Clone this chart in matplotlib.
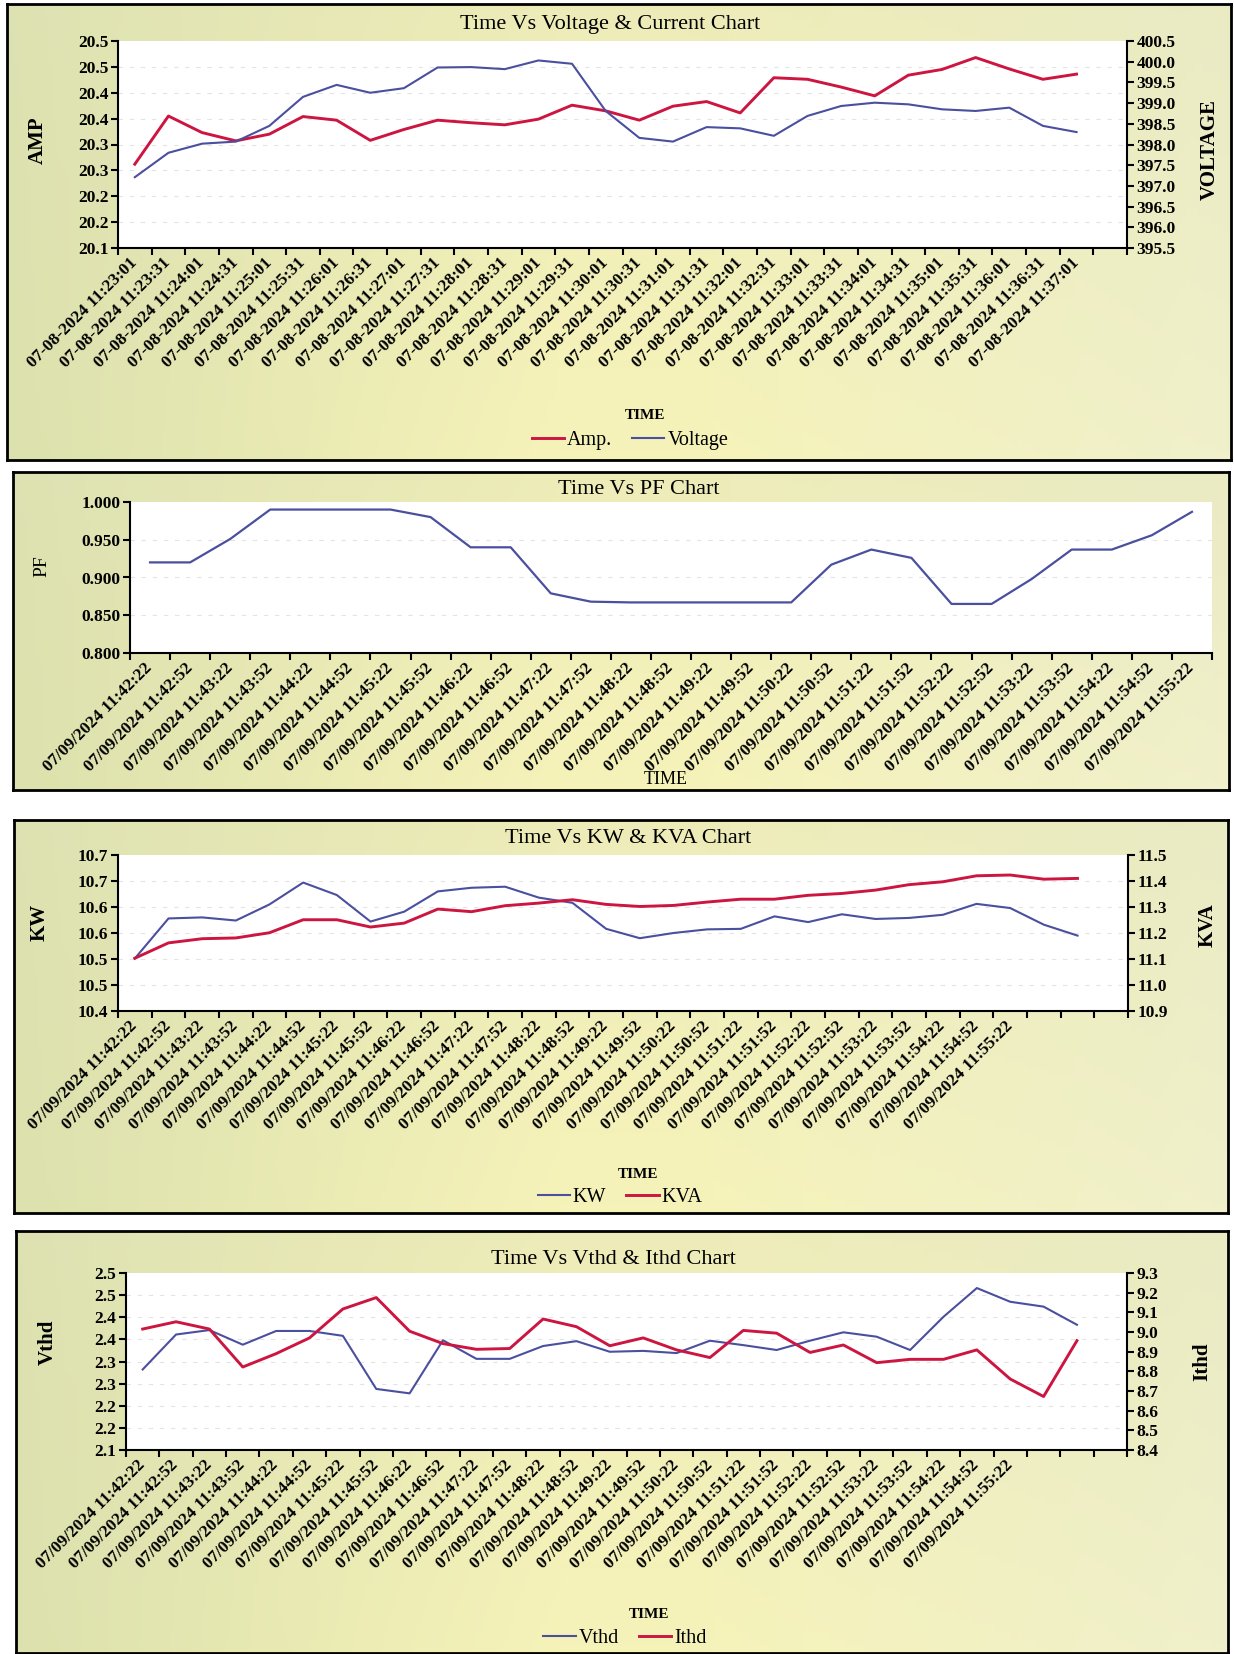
import numpy as np
import matplotlib
matplotlib.use('Agg')
import matplotlib.pyplot as plt
from matplotlib.colors import to_rgb

plt.rcParams['font.family'] = ['Liberation Serif', 'DejaVu Serif']

# ---------------- data ----------------
va_times = ['07-08-2024 11:23:01', '07-08-2024 11:23:31', '07-08-2024 11:24:01', '07-08-2024 11:24:31',
            '07-08-2024 11:25:01', '07-08-2024 11:25:31', '07-08-2024 11:26:01', '07-08-2024 11:26:31',
            '07-08-2024 11:27:01', '07-08-2024 11:27:31', '07-08-2024 11:28:01', '07-08-2024 11:28:31',
            '07-08-2024 11:29:01', '07-08-2024 11:29:31', '07-08-2024 11:30:01', '07-08-2024 11:30:31',
            '07-08-2024 11:31:01', '07-08-2024 11:31:31', '07-08-2024 11:32:01', '07-08-2024 11:32:31',
            '07-08-2024 11:33:01', '07-08-2024 11:33:31', '07-08-2024 11:34:01', '07-08-2024 11:34:31',
            '07-08-2024 11:35:01', '07-08-2024 11:35:31', '07-08-2024 11:36:01', '07-08-2024 11:36:31',
            '07-08-2024 11:37:01']
amp = [20.262, 20.355, 20.323, 20.307, 20.320, 20.354, 20.347, 20.308, 20.329, 20.347,
       20.342, 20.338, 20.349, 20.376, 20.365, 20.347, 20.374, 20.383, 20.361, 20.429,
       20.426, 20.411, 20.394, 20.434, 20.445, 20.468, 20.446, 20.426, 20.436]
voltage = [397.21, 397.80, 398.02, 398.07, 398.45, 399.15, 399.44, 399.25, 399.36, 399.86,
           399.87, 399.82, 400.03, 399.95, 398.81, 398.16, 398.07, 398.42, 398.39, 398.21,
           398.69, 398.93, 399.01, 398.97, 398.85, 398.81, 398.89, 398.45, 398.30]

pq_times = ['07/09/2024 11:42:22', '07/09/2024 11:42:52', '07/09/2024 11:43:22', '07/09/2024 11:43:52',
            '07/09/2024 11:44:22', '07/09/2024 11:44:52', '07/09/2024 11:45:22', '07/09/2024 11:45:52',
            '07/09/2024 11:46:22', '07/09/2024 11:46:52', '07/09/2024 11:47:22', '07/09/2024 11:47:52',
            '07/09/2024 11:48:22', '07/09/2024 11:48:52', '07/09/2024 11:49:22', '07/09/2024 11:49:52',
            '07/09/2024 11:50:22', '07/09/2024 11:50:52', '07/09/2024 11:51:22', '07/09/2024 11:51:52',
            '07/09/2024 11:52:22', '07/09/2024 11:52:52', '07/09/2024 11:53:22', '07/09/2024 11:53:52',
            '07/09/2024 11:54:22', '07/09/2024 11:54:52', '07/09/2024 11:55:22']
pf = [0.920, 0.920, 0.951, 0.990, 0.990, 0.990, 0.990, 0.980, 0.940, 0.940,
      0.879, 0.868, 0.867, 0.867, 0.867, 0.867, 0.867, 0.917, 0.937, 0.926,
      0.865, 0.865, 0.898, 0.937, 0.937, 0.956, 0.987]

kw = [10.501, 10.578, 10.580, 10.574, 10.605, 10.647, 10.623, 10.572, 10.591, 10.630,
      10.637, 10.639, 10.618, 10.608, 10.558, 10.540, 10.550, 10.557, 10.558, 10.582,
      10.571, 10.586, 10.577, 10.579, 10.585, 10.606, 10.598, 10.566, 10.545]
kva = [11.103, 11.162, 11.178, 11.181, 11.201, 11.251, 11.251, 11.223, 11.238, 11.292,
       11.282, 11.305, 11.315, 11.328, 11.310, 11.302, 11.306, 11.319, 11.330, 11.330,
       11.345, 11.352, 11.365, 11.386, 11.397, 11.420, 11.423, 11.407, 11.410]

vthd = [2.282, 2.361, 2.371, 2.338, 2.369, 2.369, 2.358, 2.238, 2.228, 2.348,
        2.306, 2.306, 2.335, 2.346, 2.322, 2.324, 2.319, 2.347, 2.337, 2.326,
        2.347, 2.366, 2.356, 2.326, 2.401, 2.466, 2.435, 2.424, 2.383]
ithd = [9.015, 9.052, 9.015, 8.822, 8.890, 8.970, 9.117, 9.175, 9.004, 8.941,
        8.912, 8.916, 9.066, 9.027, 8.930, 8.970, 8.909, 8.870, 9.008, 8.994,
        8.896, 8.934, 8.844, 8.861, 8.861, 8.909, 8.761, 8.672, 8.956]

amp_ticks = [20.10, 20.15, 20.20, 20.25, 20.30, 20.35, 20.40, 20.45, 20.50]
amp_labels = ['20.1', '20.2', '20.2', '20.3', '20.3', '20.4', '20.4', '20.5', '20.5']
volt_ticks = [395.5, 396.0, 396.5, 397.0, 397.5, 398.0, 398.5, 399.0, 399.5, 400.0, 400.5]
pf_ticks = [0.800, 0.850, 0.900, 0.950, 1.000]
kw_ticks = [10.40, 10.45, 10.50, 10.55, 10.60, 10.65, 10.70]
kw_labels = ['10.4', '10.5', '10.5', '10.6', '10.6', '10.7', '10.7']
kva_ticks = [10.9, 11.0, 11.1, 11.2, 11.3, 11.4, 11.5]
vthd_ticks = [2.10, 2.15, 2.20, 2.25, 2.30, 2.35, 2.40, 2.45, 2.50]
vthd_labels = ['2.1', '2.2', '2.2', '2.3', '2.3', '2.4', '2.4', '2.5', '2.5']
ithd_ticks = [8.4, 8.5, 8.6, 8.7, 8.8, 8.9, 9.0, 9.1, 9.2, 9.3]

RED = '#cc1540'
BLUE = '#4a4f9e'

# ---------------- layout helpers (pixel coordinates) ----------------
W, H = 1234, 1654
fig = plt.figure(figsize=(W / 100, H / 100), dpi=100)
fig.patch.set_facecolor('white')


def rect(x0, y0, x1, y1):
    return [x0 / W, 1 - y1 / H, (x1 - x0) / W, (y1 - y0) / H]


def ftext(x, y, s, **kw):
    fig.text(x / W, 1 - y / H, s, ha='center', va='center', **kw)


def panel_bg(box):
    bg = fig.add_axes(rect(*box), zorder=0)
    nx, ny = 300, 60
    t = np.linspace(0, 1, nx)
    c_left = np.array(to_rgb('#dce1ad'))
    c_mid = np.array(to_rgb('#f6f3b9'))
    c_right = np.array(to_rgb('#f0f0cb'))
    w1 = np.clip(1 - t / 0.45, 0, 1)[:, None]
    w3 = np.clip((t - 0.55) / 0.45, 0, 1)[:, None]
    w2 = 1 - w1 - w3
    row = w1 * c_left + w2 * c_mid + w3 * c_right
    v = np.linspace(0, 1, ny)[:, None, None]
    top_tint = np.array(to_rgb('#e1e3b9'))
    img = row[None, :, :] * (0.6 + 0.4 * v) + top_tint * (0.4 - 0.4 * v)
    bg.imshow(np.clip(img, 0, 1), aspect='auto', extent=[0, 1, 0, 1], origin='upper')
    bg.set_xticks([])
    bg.set_yticks([])
    for s in bg.spines.values():
        s.set_linewidth(2)
        s.set_color('black')


TICKFONT = dict(fontsize=12.5, fontweight='bold')


def setup_axes(plot_box, ncat, xlabels, ylim, yticks, ylabels):
    ax = fig.add_axes(rect(*plot_box), zorder=2)
    ax.set_facecolor('white')
    ax.set_xlim(-0.5, ncat - 0.5)
    ax.set_ylim(*ylim)
    # tick marks sit between categories, labels sit under each category
    ax.set_xticks(np.arange(ncat + 1) - 0.5)
    ax.set_xticklabels([])
    ax.set_xticks(np.arange(len(xlabels)), minor=True)
    ax.set_xticklabels(xlabels, minor=True, rotation=45, ha='right', va='center',
                       rotation_mode='anchor', **TICKFONT)
    ax.tick_params(axis='x', which='major', direction='out', length=5, width=1.5)
    ax.tick_params(axis='x', which='minor', length=0, pad=9)
    ax.set_yticks(yticks)
    ax.set_yticklabels(ylabels, **TICKFONT)
    ax.tick_params(axis='y', direction='out', length=5, width=1.5, pad=2)
    for y in yticks[1:-1]:
        ax.axhline(y, color='#e4e4e4', lw=0.8, ls=(0, (4, 6)), zorder=0)
    ax.spines['top'].set_visible(False)
    ax.spines['right'].set_visible(False)
    ax.spines['left'].set_linewidth(1.5)
    ax.spines['bottom'].set_linewidth(1.5)
    return ax


def right_axis(ax, ylim, yticks, ylabels):
    ax2 = ax.twinx()
    ax2.set_ylim(*ylim)
    ax2.set_yticks(yticks)
    ax2.set_yticklabels(ylabels, **TICKFONT)
    ax2.tick_params(axis='y', direction='out', length=5, width=1.5, pad=2)
    for k in ['top', 'left', 'bottom']:
        ax2.spines[k].set_visible(False)
    ax2.spines['right'].set_linewidth(1.5)
    return ax2


def legend(x, y, handles, labels):
    fig.legend(handles, labels, loc='center', bbox_to_anchor=(x / W, 1 - y / H),
               ncol=2, frameon=False, fontsize=14.5, handlelength=1.6,
               handletextpad=0.15, columnspacing=1.0)


# ---------------- panel 1: time vs voltage & current ----------------
panel_bg((7, 4, 1231, 460))
ax1 = setup_axes((118, 41, 1127, 248), 30, va_times, (20.10, 20.50), amp_ticks, amp_labels)
ax1b = right_axis(ax1, (395.5, 400.5), volt_ticks, ['%.1f' % v for v in volt_ticks])
l_amp, = ax1.plot(range(len(amp)), amp, color=RED, lw=2.1, zorder=3)
l_volt, = ax1b.plot(range(len(voltage)), voltage, color=BLUE, lw=1.5, zorder=3)
ftext(610, 25, 'Time Vs Voltage & Current Chart', fontsize=16)
ftext(38, 140, 'AMP', fontsize=15, fontweight='bold', rotation=90)
ftext(1210, 150, 'VOLTAGE', fontsize=15, fontweight='bold', rotation=90)
ftext(645, 415, 'TIME', fontsize=11, fontweight='bold')
legend(630, 440, [l_amp, l_volt], ['Amp.', 'Voltage'])

# ---------------- panel 2: time vs PF ----------------
panel_bg((13, 472, 1229, 790))
ax2 = setup_axes((130, 502, 1212, 653), 27, pq_times, (0.800, 1.000), pf_ticks,
                 ['%.3f' % v for v in pf_ticks])
ax2.plot(range(len(pf)), pf, color=BLUE, lw=1.6, zorder=3)
ftext(639, 490, 'Time Vs PF Chart', fontsize=16)
ftext(42, 566, 'PF', fontsize=14, rotation=90)
ftext(666, 780, 'TIME', fontsize=13)

# ---------------- panel 3: time vs KW & KVA ----------------
panel_bg((14, 820, 1228, 1213))
ax3 = setup_axes((118, 855, 1128, 1011), 30, pq_times, (10.40, 10.70), kw_ticks, kw_labels)
ax3b = right_axis(ax3, (10.9, 11.5), kva_ticks, ['%.1f' % v for v in kva_ticks])
l_kw, = ax3.plot(range(len(kw)), kw, color=BLUE, lw=1.5, zorder=3)
l_kva, = ax3b.plot(range(len(kva)), kva, color=RED, lw=2.1, zorder=3)
ftext(628, 838, 'Time Vs KW & KVA Chart', fontsize=16)
ftext(40, 922, 'KW', fontsize=15, fontweight='bold', rotation=90)
ftext(1208, 925, 'KVA', fontsize=15, fontweight='bold', rotation=90)
ftext(638, 1174, 'TIME', fontsize=11, fontweight='bold')
legend(620, 1197, [l_kw, l_kva], ['KW', 'KVA'])

# ---------------- panel 4: time vs Vthd & Ithd ----------------
panel_bg((16, 1231, 1228, 1653))
ax4 = setup_axes((126, 1273, 1127, 1450), 30, pq_times, (2.10, 2.50), vthd_ticks, vthd_labels)
ax4b = right_axis(ax4, (8.4, 9.3), ithd_ticks, ['%.1f' % v for v in ithd_ticks])
l_v, = ax4.plot(range(len(vthd)), vthd, color=BLUE, lw=1.5, zorder=3)
l_i, = ax4b.plot(range(len(ithd)), ithd, color=RED, lw=2.1, zorder=3)
ftext(613, 1260, 'Time Vs Vthd & Ithd Chart', fontsize=16)
ftext(48, 1342, 'Vthd', fontsize=15, fontweight='bold', rotation=90)
ftext(1202, 1362, 'Ithd', fontsize=15, fontweight='bold', rotation=90)
ftext(649, 1614, 'TIME', fontsize=11, fontweight='bold')
legend(625, 1638, [l_v, l_i], ['Vthd', 'Ithd'])

fig.savefig('out.png', dpi=100, facecolor='white')
